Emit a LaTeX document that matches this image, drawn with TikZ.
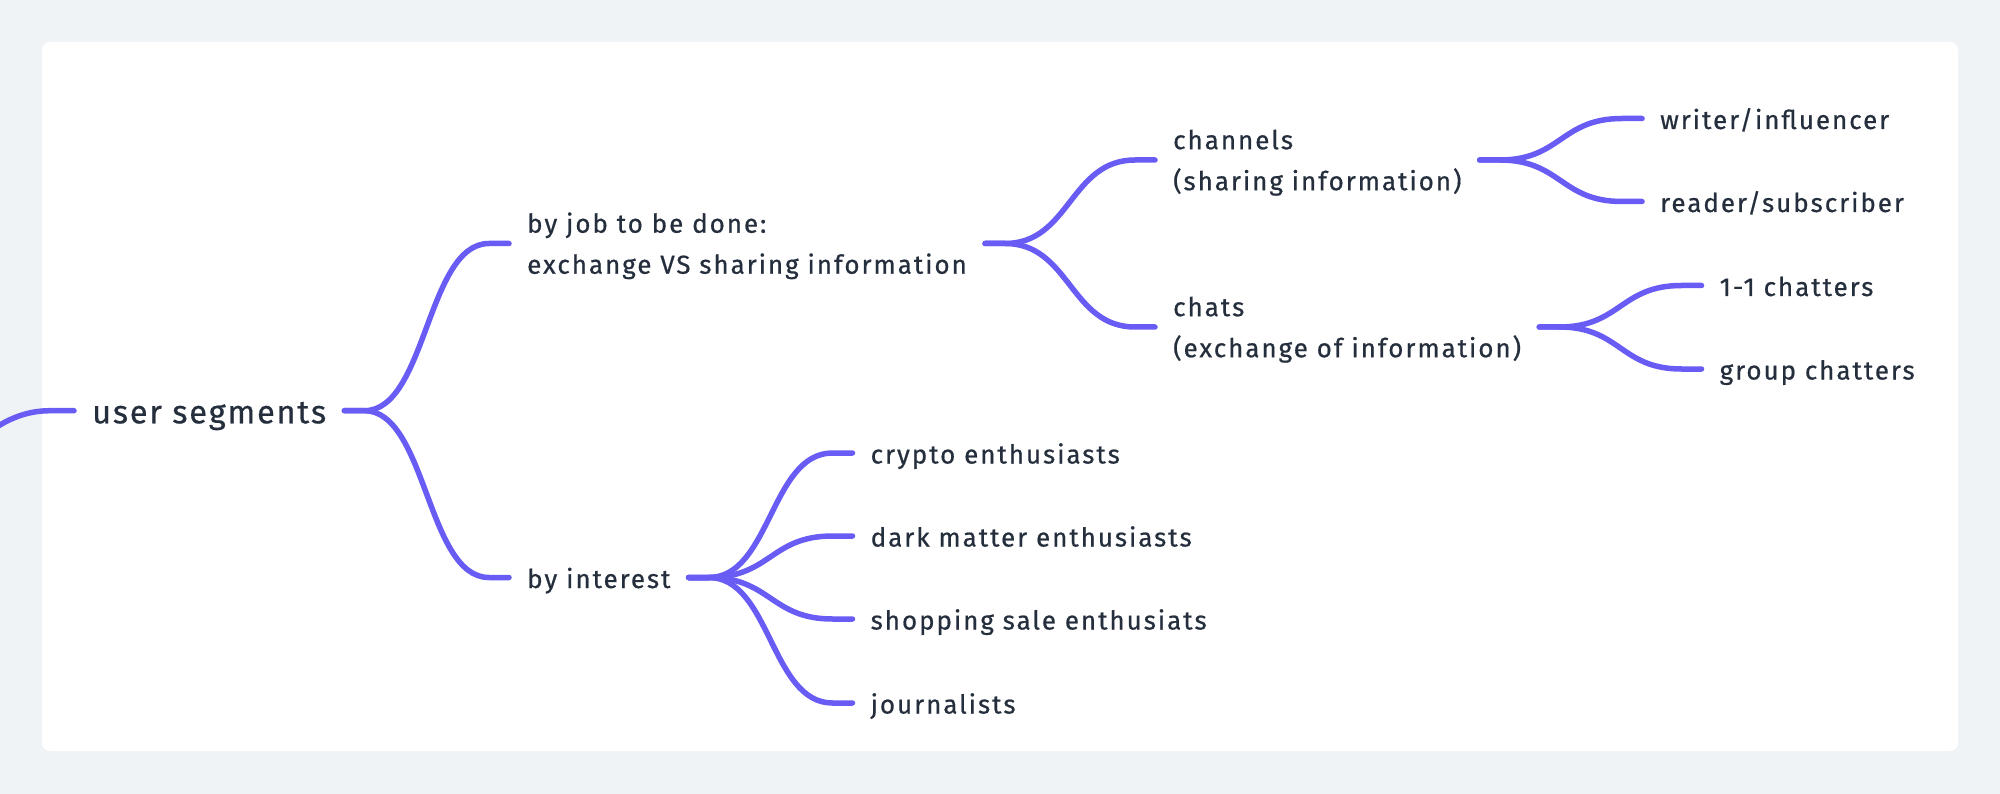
\documentclass[tikz,border=0pt]{standalone}
\usepackage{fontspec}
\setmainfont{Fira Sans}
\newfontfamily\lblfont{Fira Sans}[LetterSpace=7.5, FakeBold=0.6]
\newfontfamily\rootfont{Fira Sans}[LetterSpace=5.5, FakeBold=0.6]
\usetikzlibrary{calc}
\definecolor{bgc}{RGB}{239,243,246}
\definecolor{linec}{RGB}{104,92,245}
\definecolor{txtc}{RGB}{36,46,60}
\begin{document}
\begin{tikzpicture}[x=1pt,y=-1pt,
  lbl/.style={anchor=west, inner xsep=18pt, inner ysep=0pt, text=txtc,
    font=\lblfont\fontsize{26}{41}\selectfont, text height=21pt, text depth=0pt},
  lbltwo/.style={lbl, text depth=42.6pt},
  rootlbl/.style={lbl, font=\rootfont\fontsize{32.5}{41}\selectfont, text height=25.2pt},
  conn/.style={draw=linec, line width=5.5pt, line cap=round, line join=round},
  branch/.style={conn,
    to path={let \p1=(\tikztostart), \p2=(\tikztotarget), \n1={(\x2-\x1-40pt)/2} in
      -- ($(\p1)+(20,0)$) .. controls ($(\p1)+(20+\n1,0)$) and ($(\p2)+(-20-\n1,0)$) .. ($(\p2)+(-20,0)$) -- (\p2)}}]
\fill[bgc] (0,0) rectangle (2000,794);
\useasboundingbox (0,0) rectangle (2000,794);
\clip (0,0) rectangle (2000,794);
\fill[white, rounded corners=8pt] (42,42) rectangle (1958,751);

\node[rootlbl] (root) at (74,410.7) {user segments};
\node[lbltwo] (jtbd) at (509,243.5) {\vtop{\hbox{by job to be done:}\hbox{exchange VS sharing information}}};
\node[lbl] (interest) at (509,577.5) {by interest};
\node[lbltwo] (channels) at (1155,160) {\vtop{\hbox{channels}\hbox{(sharing information)}}};
\node[lbltwo] (chats) at (1155,327) {\vtop{\hbox{chats}\hbox{(exchange of information)}}};
\node[lbl] (writer) at (1642,118.5) {writer/influencer};
\node[lbl] (reader) at (1642,201.5) {reader/subscriber};
\node[lbl] (one) at (1701.5,285.5) {1-1 chatters};
\node[lbl] (group) at (1701.5,369) {group chatters};
\node[lbl] (crypto) at (852.5,453) {crypto enthusiasts};
\node[lbl] (dark) at (852.5,536) {dark matter enthusiasts};
\node[lbl] (shop) at (852.5,619) {shopping sale enthusiats};
\node[lbl] (journ) at (852.5,703) {journalists};
\coordinate (ext) at (-90,500);

\draw[conn] (ext) .. controls (-40,465) and (-10,410.7) .. (50,410.7) -- (root.west);
\draw[branch] (root.east) to (jtbd.west);
\draw[branch] (root.east) to (interest.west);
\draw[branch] (jtbd.east) to (channels.west);
\draw[branch] (jtbd.east) to (chats.west);
\draw[branch] (channels.east) to (writer.west);
\draw[branch] (channels.east) to (reader.west);
\draw[branch] (chats.east) to (one.west);
\draw[branch] (chats.east) to (group.west);
\draw[branch] (interest.east) to (crypto.west);
\draw[branch] (interest.east) to (dark.west);
\draw[branch] (interest.east) to (shop.west);
\draw[branch] (interest.east) to (journ.west);
\end{tikzpicture}
\end{document}
